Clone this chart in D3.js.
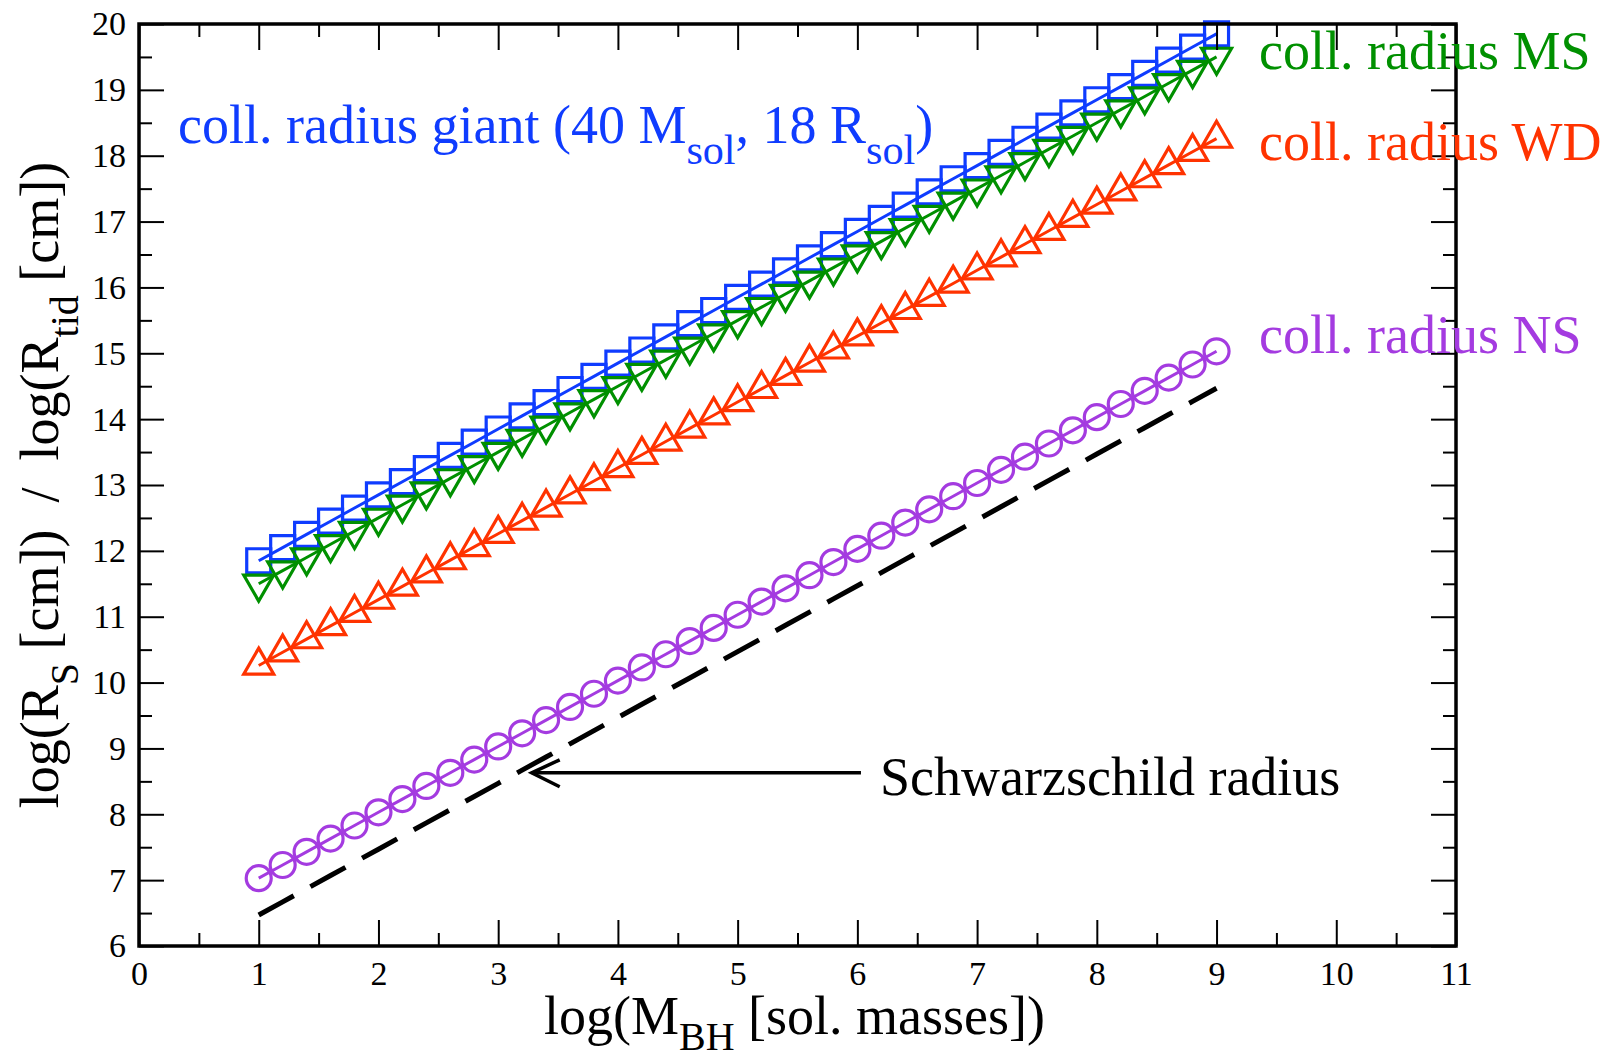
<!DOCTYPE html>
<html>
<head>
<meta charset="utf-8">
<script src="https://cdn.jsdelivr.net/npm/d3@7"></script>
<style>
    body { margin: 0; background: #fff; }
    svg { display: block; }
    svg text { font-family: "Liberation Serif", "Times New Roman", serif; }
</style>
</head>
<body>
<div id="chart"></div>
<script>
// log(M_BH) sampling
let logMass = [1.0, 1.2, 1.4, 1.6, 1.8, 2.0, 2.2, 2.4, 2.6, 2.8, 3.0, 3.2, 3.4, 3.6, 3.8, 4.0, 4.2, 4.4, 4.6, 4.8,
    5.0, 5.2, 5.4, 5.6, 5.8, 6.0, 6.2, 6.4, 6.6, 6.8, 7.0, 7.2, 7.4, 7.6, 7.8, 8.0, 8.2, 8.4, 8.6, 8.8, 9.0];

let radiusGiant = [11.85, 12.05, 12.25, 12.45, 12.65, 12.85, 13.05, 13.25, 13.45, 13.65, 13.85, 14.05, 14.25, 14.45,
    14.65, 14.85, 15.05, 15.25, 15.45, 15.65, 15.85, 16.05, 16.25, 16.45, 16.65, 16.85, 17.05, 17.25, 17.45, 17.65,
    17.85, 18.05, 18.25, 18.45, 18.65, 18.85, 19.05, 19.25, 19.45, 19.65, 19.85];

let radiusMS = [11.50, 11.70, 11.90, 12.10, 12.30, 12.50, 12.70, 12.90, 13.10, 13.30, 13.50, 13.70, 13.90, 14.10,
    14.30, 14.50, 14.70, 14.90, 15.10, 15.30, 15.50, 15.70, 15.90, 16.10, 16.30, 16.50, 16.70, 16.90, 17.10, 17.30,
    17.50, 17.70, 17.90, 18.10, 18.30, 18.50, 18.70, 18.90, 19.10, 19.30, 19.50];

let radiusWD = [10.26, 10.46, 10.66, 10.86, 11.06, 11.26, 11.46, 11.66, 11.86, 12.06, 12.26, 12.46, 12.66, 12.86,
    13.06, 13.26, 13.46, 13.66, 13.86, 14.06, 14.26, 14.46, 14.66, 14.86, 15.06, 15.26, 15.46, 15.66, 15.86, 16.06,
    16.26, 16.46, 16.66, 16.86, 17.06, 17.26, 17.46, 17.66, 17.86, 18.06, 18.26];

let radiusNS = [7.03, 7.23, 7.43, 7.63, 7.83, 8.03, 8.23, 8.43, 8.63, 8.83, 9.03, 9.23, 9.43, 9.63,
    9.83, 10.03, 10.23, 10.43, 10.63, 10.83, 11.03, 11.23, 11.43, 11.63, 11.83, 12.03, 12.23, 12.43, 12.63, 12.83,
    13.03, 13.23, 13.43, 13.63, 13.83, 14.03, 14.23, 14.43, 14.63, 14.83, 15.03];

let radiusSchw = [6.47, 6.67, 6.87, 7.07, 7.27, 7.47, 7.67, 7.87, 8.07, 8.27, 8.47, 8.67, 8.87, 9.07,
    9.27, 9.47, 9.67, 9.87, 10.07, 10.27, 10.47, 10.67, 10.87, 11.07, 11.27, 11.47, 11.67, 11.87, 12.07, 12.27,
    12.47, 12.67, 12.87, 13.07, 13.27, 13.47, 13.67, 13.87, 14.07, 14.27, 14.47];

let xTicks = [0, 1, 2, 3, 4, 5, 6, 7, 8, 9, 10, 11];
let yTicks = [6, 7, 8, 9, 10, 11, 12, 13, 14, 15, 16, 17, 18, 19, 20];

// arrow for the Schwarzschild label, in data units: [from, to]
let arrowFrom = [6.03, 8.63];
let arrowTo = [3.28, 8.63];

let series = [
    { name: "giant", values: radiusGiant, color: "#0f3cff", symbol: d3.symbolSquare, size: 576, rotate: 0 },
    { name: "MS", values: radiusMS, color: "#009000", symbol: d3.symbolTriangle, size: 390, rotate: 180 },
    { name: "WD", values: radiusWD, color: "#ff3300", symbol: d3.symbolTriangle, size: 390, rotate: 0 },
    { name: "NS", values: radiusNS, color: "#a43be0", symbol: d3.symbolCircle, size: Math.PI * 12.5 * 12.5, rotate: 0 }
];

let serif = "'Liberation Serif', 'Times New Roman', serif";
let totalWidth = 1617, totalHeight = 1060;
let margin = {top: 24, right: 161, bottom: 114, left: 139},
    width = totalWidth - margin.left - margin.right,
    height = totalHeight - margin.top - margin.bottom;

let svg = d3.select("#chart").append("svg")
    .attr("width", totalWidth)
    .attr("height", totalHeight);

let g = svg.append("g").attr("transform", "translate(" + margin.left + "," + margin.top + ")");

let xScale = d3.scaleLinear().domain([0, 11]).range([0, width]);
let yScale = d3.scaleLinear().domain([6, 20]).range([height, 0]);

// labels sit under the frame, as in the original
function label(x, y, color, parts, size)
{
    let t = svg.append("text")
        .attr("x", x)
        .attr("y", y)
        .attr("fill", color)
        .style("font-family", serif)
        .style("font-size", size + "px");
    parts.forEach((p) => {
        if(p.sub)
            t.append("tspan").style("font-size", (size * 0.78) + "px").attr("dy", size * 0.38).text(p.text);
        else
            t.append("tspan").attr("dy", p.back ? -size * 0.38 : 0).text(p.text);
    });
    return t;
}

label(178, 143, "#0f3cff", [
    {text: "coll. radius giant (40 M"}, {text: "sol", sub: true}, {text: ", 18 R", back: true},
    {text: "sol", sub: true}, {text: ")", back: true}], 54);
label(1259, 69, "#009000", [{text: "coll. radius MS"}], 54);
label(1259, 160, "#ff3300", [{text: "coll. radius WD"}], 54);
label(1259, 353, "#a43be0", [{text: "coll. radius NS"}], 54);
label(880, 795, "#000", [{text: "Schwarzschild radius"}], 54);

// Schwarzschild radius, dashed
let line = d3.line()
    .x((d, i) => xScale(logMass[i]))
    .y((d) => yScale(d));

g.append("path")
    .datum(radiusSchw)
    .attr("fill", "none")
    .attr("stroke", "#000")
    .attr("stroke-width", 5)
    .attr("stroke-dasharray", "40,19")
    .attr("d", line);

series.forEach((s) => {
    g.append("path")
        .datum(s.values)
        .attr("fill", "none")
        .attr("stroke", s.color)
        .attr("stroke-width", 3)
        .attr("d", line);

    g.selectAll(".m-" + s.name)
        .data(s.values)
        .enter().append("path")
        .attr("class", "m-" + s.name)
        .attr("fill", "none")
        .attr("stroke", s.color)
        .attr("stroke-width", 3.2)
        .attr("d", d3.symbol().type(s.symbol).size(s.size))
        .attr("transform", (d, i) => "translate(" + xScale(logMass[i]) + "," + yScale(d) + ") rotate(" + s.rotate + ")");
});

// arrow
let ax0 = xScale(arrowFrom[0]), ay0 = yScale(arrowFrom[1]);
let ax1 = xScale(arrowTo[0]), ay1 = yScale(arrowTo[1]);
g.append("line")
    .attr("x1", ax0).attr("y1", ay0).attr("x2", ax1).attr("y2", ay1)
    .attr("stroke", "#000").attr("stroke-width", 3.5);
g.append("path")
    .attr("d", "M" + (ax1 + 28) + "," + (ay1 - 13) + "L" + ax1 + "," + ay1 + "L" + (ax1 + 28) + "," + (ay1 + 14))
    .attr("fill", "none").attr("stroke", "#000").attr("stroke-width", 3.5);

// axes with inward ticks on all four sides
let xMinor = d3.range(0.5, 11, 1);
let yMinor = d3.range(6.5, 20, 1);

function styleAxis(sel)
{
    sel.attr("font-family", null).attr("font-size", null);
    sel.select(".domain").remove();
    sel.selectAll("line").attr("stroke", "#000").attr("stroke-width", 2);
    sel.selectAll("text")
        .attr("fill", "#000")
        .style("font-family", serif)
        .style("font-size", "34px");
}

function ticksOnly(sel)
{
    styleAxis(sel);
    sel.selectAll("text").remove();
}

g.append("g")
    .attr("transform", "translate(0," + height + ")")
    .call(d3.axisBottom(xScale).tickValues(xTicks).tickSize(-26).tickPadding(15).tickFormat(d3.format("d")))
    .call(styleAxis);
g.append("g")
    .attr("transform", "translate(0," + height + ")")
    .call(d3.axisBottom(xScale).tickValues(xMinor).tickSize(-13))
    .call(ticksOnly);
g.append("g")
    .call(d3.axisTop(xScale).tickValues(xTicks).tickSize(-26))
    .call(ticksOnly);
g.append("g")
    .call(d3.axisTop(xScale).tickValues(xMinor).tickSize(-13))
    .call(ticksOnly);

g.append("g")
    .call(d3.axisLeft(yScale).tickValues(yTicks).tickSize(-25).tickPadding(13).tickFormat(d3.format("d")))
    .call(styleAxis);
g.append("g")
    .call(d3.axisLeft(yScale).tickValues(yMinor).tickSize(-13))
    .call(ticksOnly);
g.append("g")
    .attr("transform", "translate(" + width + ",0)")
    .call(d3.axisRight(yScale).tickValues(yTicks).tickSize(-25))
    .call(ticksOnly);
g.append("g")
    .attr("transform", "translate(" + width + ",0)")
    .call(d3.axisRight(yScale).tickValues(yMinor).tickSize(-13))
    .call(ticksOnly);

g.append("rect")
    .attr("width", width)
    .attr("height", height)
    .attr("fill", "none")
    .attr("stroke", "#000")
    .attr("stroke-width", 3.5);

// axis titles
let xt = svg.append("text")
    .attr("x", 544)
    .attr("y", 1034)
    .style("font-family", serif)
    .style("font-size", "54px");
xt.append("tspan").text("log(M");
xt.append("tspan").style("font-size", "40px").attr("dy", 16).text("BH");
xt.append("tspan").attr("dy", -16).text(" [sol. masses])");

let yt = svg.append("text")
    .attr("transform", "translate(58," + (margin.top + height / 2) + ") rotate(-90)")
    .attr("text-anchor", "middle")
    .style("font-family", serif)
    .style("font-size", "54px")
    .style("white-space", "pre");
yt.append("tspan").text("log(R");
yt.append("tspan").style("font-size", "40px").attr("dy", 20).text("S");
yt.append("tspan").attr("dy", -20).text(" [cm])  /  log(R");
yt.append("tspan").style("font-size", "40px").attr("dy", 20).text("tid");
yt.append("tspan").attr("dy", -20).text(" [cm])");
</script>
</body>
</html>
